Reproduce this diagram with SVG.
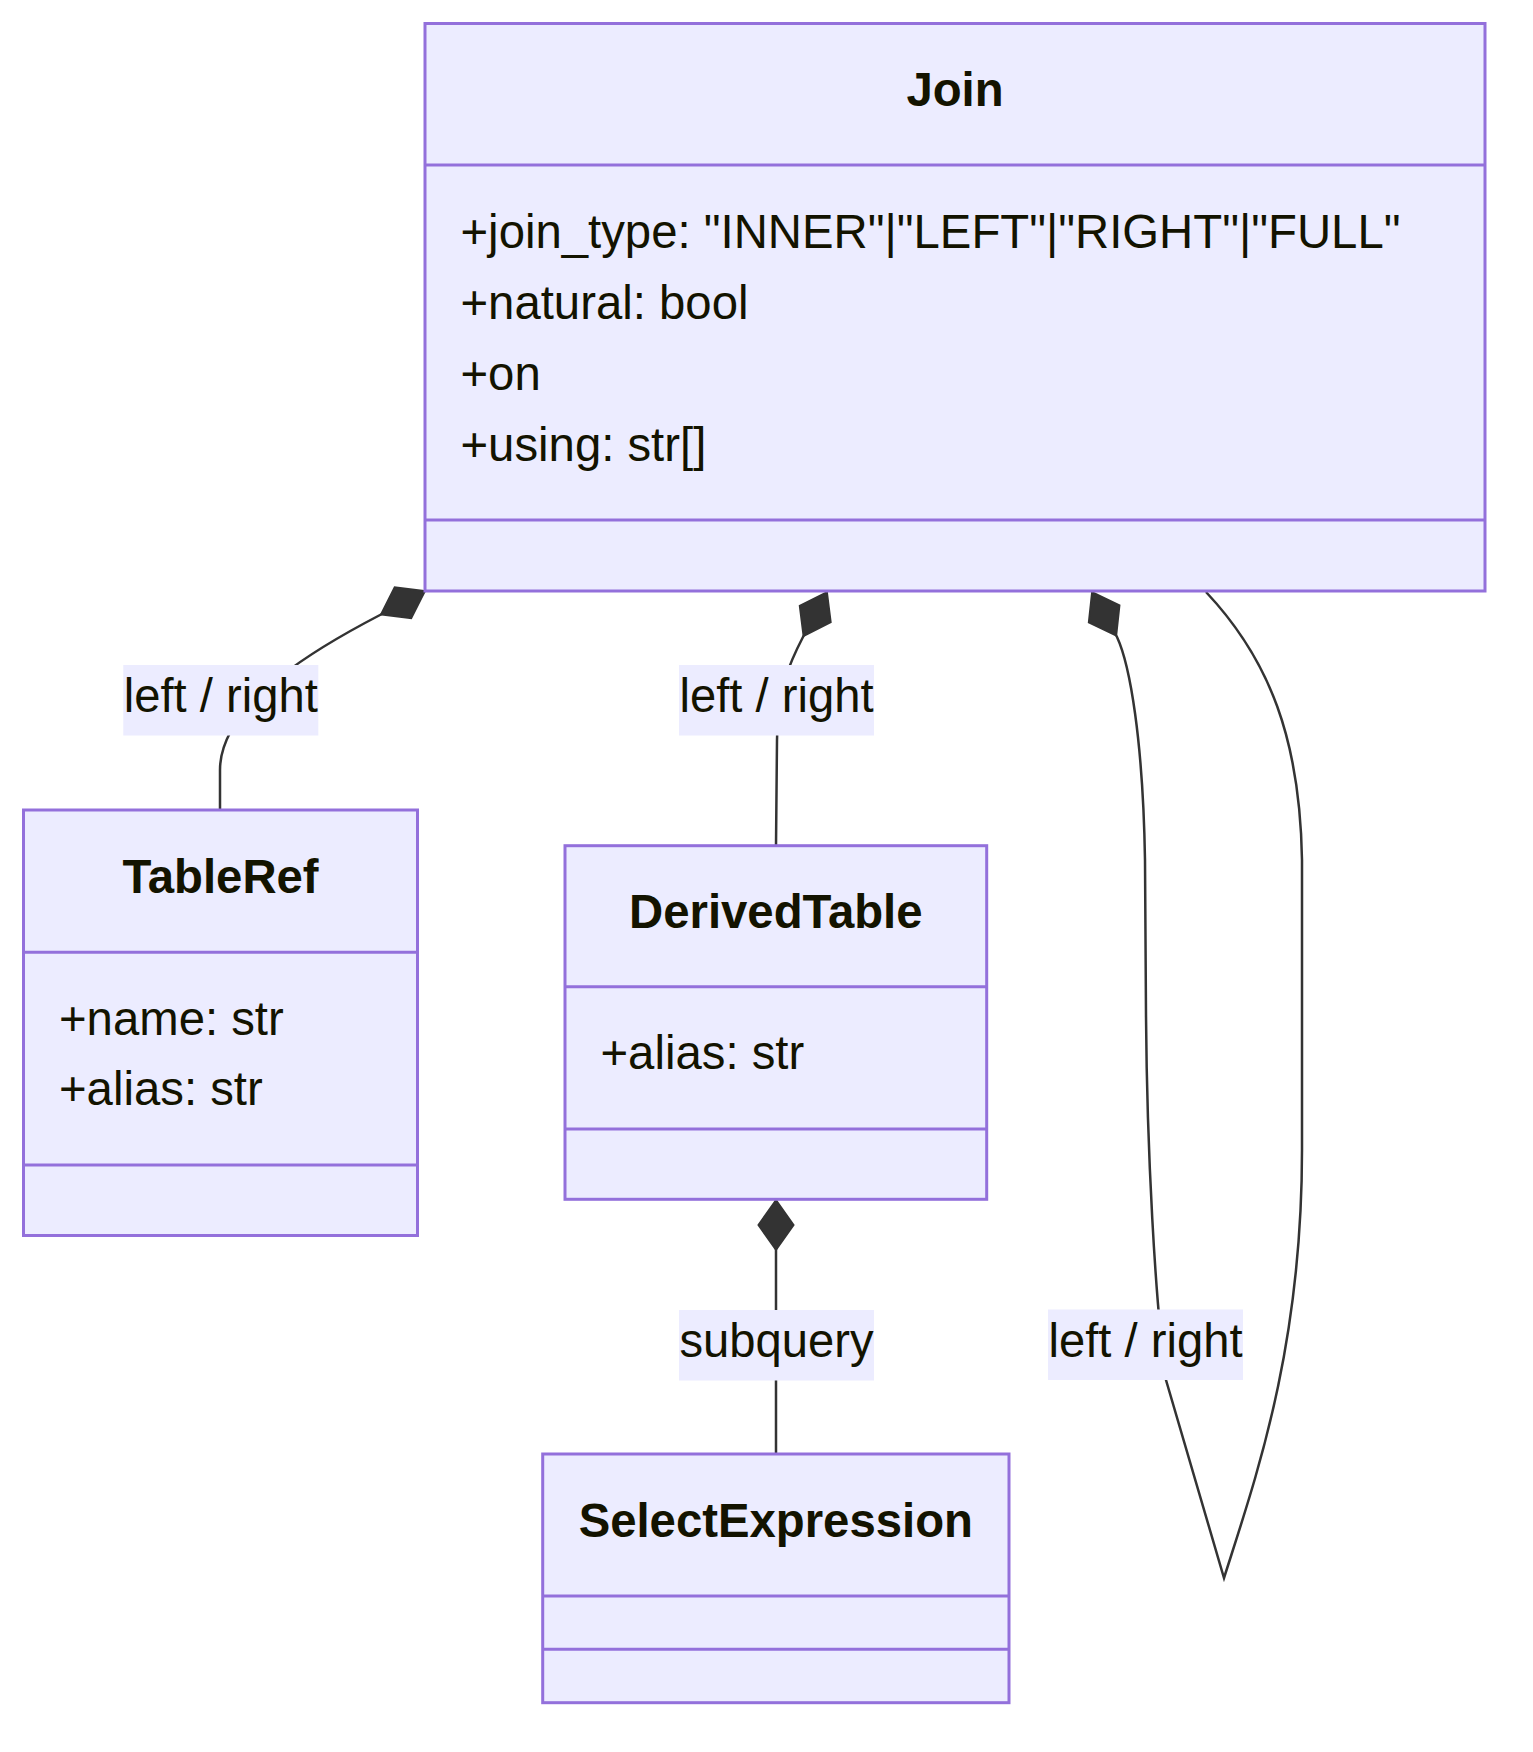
<svg xmlns="http://www.w3.org/2000/svg" width="1533" height="1752" viewBox="0 0 1533 1752">
<style>
.box{fill:#ECECFF;stroke:#9370DB;stroke-width:3}
.div{stroke:#9370DB;stroke-width:3}
.title{font-family:"Liberation Sans",Arial,sans-serif;font-size:47.3px;font-weight:bold;fill:#131300;text-anchor:middle}
.attr{font-family:"Liberation Sans",Arial,sans-serif;font-size:47.3px;fill:#131300}
.edge{fill:none;stroke:#333333;stroke-width:2.5}
.lblbg{fill:#ECECFF}
.lbl{font-family:"Liberation Sans",Arial,sans-serif;font-size:47.2px;fill:#131300;text-anchor:middle}
</style>
<defs>
<marker id="comp" viewBox="0 0 17 14" refX="0" refY="7" markerWidth="50" markerHeight="41.2" markerUnits="userSpaceOnUse" orient="auto" overflow="visible">
<path d="M 0,7 L 8.5,1 L 17,7 L 8.5,13 Z" fill="#333333" stroke="#333333" stroke-width="0.6"/>
</marker>
</defs>
<rect width="1533" height="1752" fill="#FFFFFF"/>

<g id="connectors">
<path class="edge" marker-start="url(#comp)" d="M 425,591 L 380,615 C 330,641 220,700 220,770 L 220,810"/>
<path class="edge" marker-start="url(#comp)" d="M 827,592 L 803,637 C 790,662 777,690 777,740 L 776,846"/>
<path class="edge" marker-start="url(#comp)" d="M 1092,592 L 1117,637 C 1130,665 1143,740 1145,860 L 1146,1016 C 1147,1150 1155,1300 1166,1380 L 1224,1578 C 1255,1480 1302,1350 1302,1150 L 1302,860 C 1300,740 1270,660 1206,592"/>
<path class="edge" marker-start="url(#comp)" d="M 776,1200 L 776,1454"/>
<g id="edge-labels">
<rect class="lblbg" x="123.3" y="665" width="195" height="70.5"/>
<text class="lbl" x="220.8" y="712">left / right</text>
<rect class="lblbg" x="679" y="665" width="195" height="70.5"/>
<text class="lbl" x="776.5" y="712">left / right</text>
<rect class="lblbg" x="1048" y="1309.5" width="195" height="70.5"/>
<text class="lbl" x="1145.5" y="1356.5">left / right</text>
<rect class="lblbg" x="679" y="1310" width="195" height="70.5"/>
<text class="lbl" x="776.5" y="1357">subquery</text>
</g>
</g>

<g id="Join">
<rect class="box" x="425" y="23.5" width="1060" height="567.5"/>
<line class="div" x1="425" y1="165" x2="1485" y2="165"/>
<line class="div" x1="425" y1="520" x2="1485" y2="520"/>
<text class="title" x="955" y="106">Join</text>
<text class="attr" x="460.5" y="248">+join_type: "INNER"|"LEFT"|"RIGHT"|"FULL"</text>
<text class="attr" x="460.5" y="319">+natural: bool</text>
<text class="attr" x="460.5" y="390">+on</text>
<text class="attr" x="460.5" y="461">+using: str[]</text>
</g>

<g id="TableRef">
<rect class="box" x="23.5" y="810" width="394" height="425.5"/>
<line class="div" x1="23.5" y1="952.3" x2="417.5" y2="952.3"/>
<line class="div" x1="23.5" y1="1165" x2="417.5" y2="1165"/>
<text class="title" x="220.5" y="893">TableRef</text>
<text class="attr" x="59" y="1035">+name: str</text>
<text class="attr" x="59" y="1105">+alias: str</text>
</g>

<g id="DerivedTable">
<rect class="box" x="565" y="845.7" width="421.7" height="353.6"/>
<line class="div" x1="565" y1="986.7" x2="986.7" y2="986.7"/>
<line class="div" x1="565" y1="1129" x2="986.7" y2="1129"/>
<text class="title" x="775.8" y="928">DerivedTable</text>
<text class="attr" x="600.5" y="1069">+alias: str</text>
</g>

<g id="SelectExpression">
<rect class="box" x="542.7" y="1454" width="466.3" height="248.7"/>
<line class="div" x1="542.7" y1="1596" x2="1009" y2="1596"/>
<line class="div" x1="542.7" y1="1649.3" x2="1009" y2="1649.3"/>
<text class="title" x="775.8" y="1537">SelectExpression</text>
</g>
</svg>
